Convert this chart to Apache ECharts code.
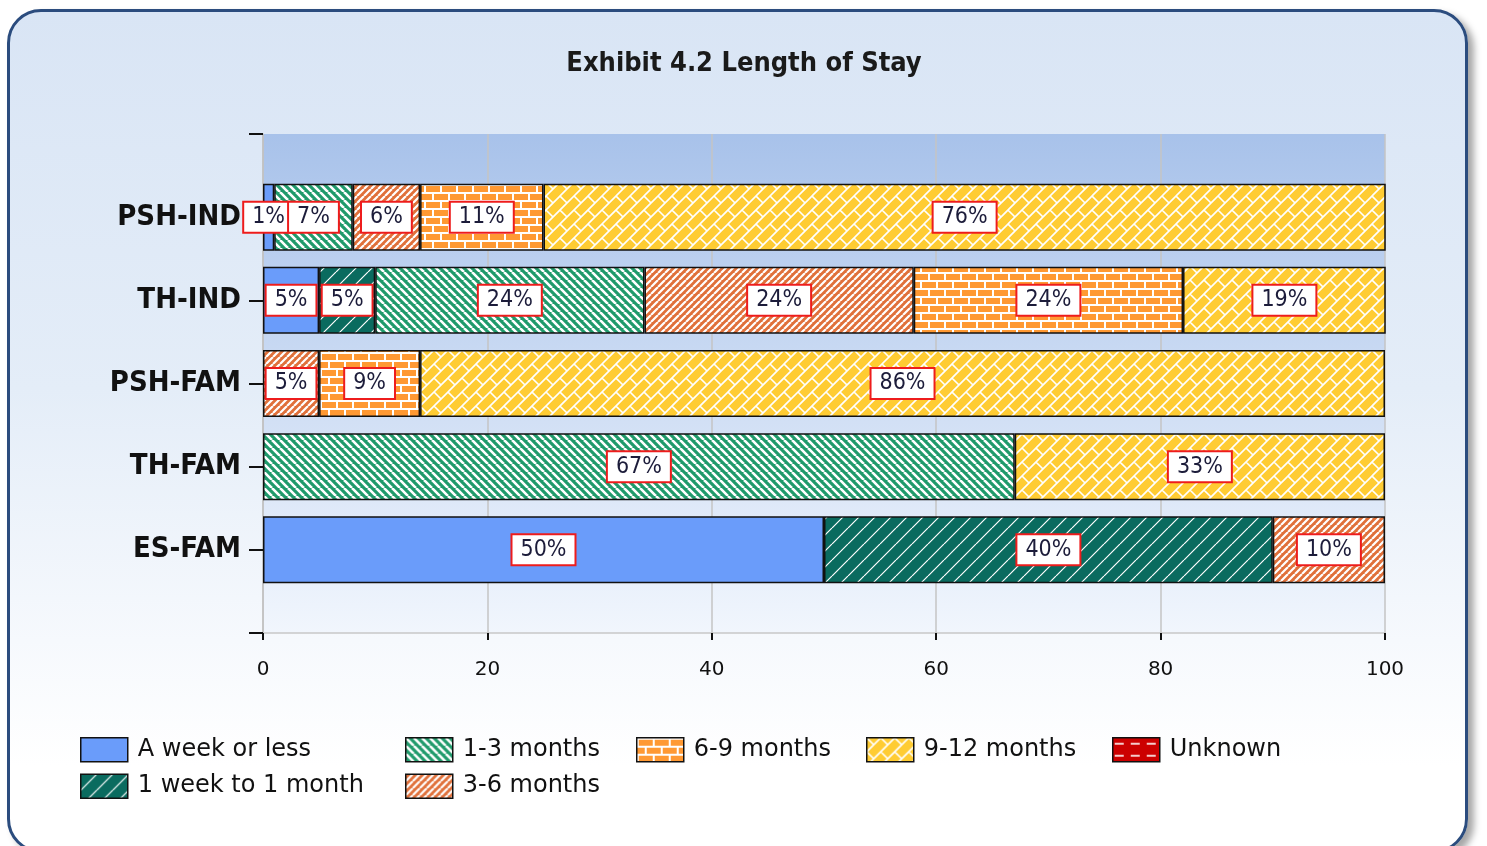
<!DOCTYPE html>
<html>
<head>
<meta charset="utf-8">
<script src="https://cdn.jsdelivr.net/npm/echarts@6/dist/echarts.min.js"></script>
<style>
html,body{margin:0;padding:0;width:1487px;height:846px;overflow:hidden;background:#fff;}
#frame{position:absolute;left:7px;top:9px;width:1455px;height:838px;border:3px solid #2b4c7e;border-radius:34px;
background:linear-gradient(to bottom,#d9e5f5 0%,#e4edf8 45%,#f6f9fd 75%,#ffffff 90%);box-shadow:6px 5px 7px rgba(0,0,0,0.35);}
#chart{position:absolute;left:0;top:0;width:1487px;height:846px;}
</style>
</head>
<body>
<div id="frame"></div>
<div id="chart"></div>
<script>
const categories = ['PSH-IND', 'TH-IND', 'PSH-FAM', 'TH-FAM', 'ES-FAM'];
const seriesNames = ['A week or less', '1 week to 1 month', '1-3 months', '3-6 months', '6-9 months', '9-12 months', 'Unknown'];
const weekOrLess   = [1, 5, 0, 0, 50];
const weekToMonth  = [0, 5, 0, 0, 40];
const months1to3   = [7, 24, 0, 67, 0];
const months3to6   = [6, 24, 5, 0, 10];
const months6to9   = [11, 24, 9, 0, 0];
const months9to12  = [76, 19, 86, 33, 0];
const unknownStay  = [0, 0, 0, 0, 0];
const xTicks = [0, 20, 40, 60, 80, 100];

function pat(w, h, bg, draw) {
  const c = document.createElement('canvas');
  c.width = w; c.height = h;
  const x = c.getContext('2d');
  x.fillStyle = bg; x.fillRect(0, 0, w, h);
  x.strokeStyle = '#fff';
  draw(x, w, h);
  return { image: c, repeat: 'repeat' };
}
function hatch(bg, s, lw, forward) {
  return pat(s, s, bg, (x) => {
    x.lineWidth = lw;
    x.beginPath();
    for (const o of [-s, 0, s]) {
      if (forward) { x.moveTo(o, s); x.lineTo(o + s, 0); }
      else { x.moveTo(o, 0); x.lineTo(o + s, s); }
    }
    x.stroke();
  });
}
function brick(bg) {
  return pat(16, 16, bg, (x) => {
    x.fillStyle = '#fff';
    x.fillRect(0, 0, 16, 2);
    x.fillRect(0, 8, 16, 2);
    x.fillRect(0, 0, 2, 8);
    x.fillRect(8, 8, 2, 8);
  });
}
function diagBrick(bg) {
  const P = 14;
  return pat(2 * P, 2 * P, bg, (x) => {
    x.lineWidth = 1.6;
    x.beginPath();
    for (let k = -4; k <= 8; k++) {
      x.moveTo(k * P + 40, -40); x.lineTo(k * P - 40, 40);
    }
    for (let k = -4; k <= 8; k++) {
      const c0 = (((k % 2) + 2) % 2) ? P : 0;
      for (let m = -4; m <= 4; m++) {
        const d = c0 + 2 * P * m;
        const s1 = k * P, s2 = (k + 1) * P;
        x.moveTo((s1 + d) / 2, (s1 - d) / 2);
        x.lineTo((s2 + d) / 2, (s2 - d) / 2);
      }
    }
    x.stroke();
  });
}
function dashes(bg) {
  return pat(16, 12, bg, (x) => {
    x.lineWidth = 1.6;
    x.beginPath();
    x.moveTo(2, 6); x.lineTo(11, 6);
    x.stroke();
  });
}

const fills = [
  '#6a9cfa',
  hatch('#0a6b5f', 16, 1.2, true),
  hatch('#1f9a6b', 8, 2.6, false),
  hatch('#e0703a', 7, 2.2, true),
  brick('#ff9933'),
  diagBrick('#ffcc33'),
  dashes('#cc0000')
];
const valueSets = [weekOrLess, weekToMonth, months1to3, months3to6, months6to9, months9to12, unknownStay];

const FONT = '"DejaVu Sans Condensed", "DejaVu Sans", sans-serif';
const WIDE_FONT = '"DejaVu Sans", sans-serif';

const yData = [''].concat(categories, ['']);

const series = seriesNames.map((name, i) => ({
  name: name,
  type: 'bar',
  stack: 'total',
  barWidth: 67,
  data: ['-'].concat(valueSets[i].map(v => v === 0 ? '-' : v), ['-']),
  itemStyle: { color: fills[i], borderColor: '#111', borderWidth: 1.5 },
  label: {
    show: true,
    position: 'inside',
    formatter: p => p.value + '%',
    fontFamily: FONT,
    fontSize: 23,
    color: '#1c1c3a',
    backgroundColor: '#fff',
    borderColor: '#ee1c1c',
    borderWidth: 2,
    padding: [4, 8, 2, 8]
  },
  emphasis: { disabled: true }
}));

const legendCols = [
  { data: ['A week or less', '1 week to 1 month'], left: 80 },
  { data: ['1-3 months', '3-6 months'], left: 405 },
  { data: ['6-9 months'], left: 636 },
  { data: ['9-12 months'], left: 866 },
  { data: ['Unknown'], left: 1112 }
];

const chart = echarts.init(document.getElementById('chart'));
chart.setOption({
  backgroundColor: 'transparent',
  animation: false,
  title: {
    text: 'Exhibit 4.2 Length of Stay',
    left: 739, top: 45, textAlign: 'center',
    textStyle: { fontFamily: FONT, fontSize: 27, fontWeight: 'bold', color: '#1a1a1a' }
  },
  legend: legendCols.map(c => ({
    data: c.data,
    left: c.left,
    top: 737,
    orient: 'vertical',
    padding: 0,
    itemGap: 11,
    itemWidth: 47,
    itemHeight: 24,
    icon: 'rect',
    selectedMode: false,
    itemStyle: { borderColor: '#111', borderWidth: 1.5 },
    textStyle: { fontFamily: WIDE_FONT, fontSize: 24, color: '#111', padding: [0, 0, 0, 5] }
  })),
  grid: {
    left: 263, right: 102, top: 134, bottom: 213,
    show: true, borderWidth: 0,
    backgroundColor: new echarts.graphic.LinearGradient(0, 0, 0, 1, [
      { offset: 0, color: '#a8c2ea' },
      { offset: 1, color: '#f1f6fd' }
    ])
  },
  xAxis: {
    type: 'value', min: xTicks[0], max: xTicks[xTicks.length - 1], interval: 20,
    axisLine: { show: true, lineStyle: { color: '#c8c8c8', width: 1.5 } },
    axisTick: { show: true, length: 7, lineStyle: { color: '#111', width: 2 } },
    axisLabel: { fontFamily: WIDE_FONT, fontSize: 20, color: '#111', margin: 27 },
    splitLine: { show: true, lineStyle: { color: '#c4c4c4', width: 1.5 } }
  },
  yAxis: {
    type: 'category', data: yData, inverse: true, boundaryGap: false,
    axisLine: { show: true, lineStyle: { color: '#c0c0c0', width: 1.5 } },
    axisTick: { show: true, length: 14, alignWithLabel: true, lineStyle: { color: '#111', width: 2 } },
    axisLabel: { fontFamily: FONT, fontSize: 29, fontWeight: 'bold', color: '#111', margin: 22 },
    splitLine: { show: false }
  },
  series: series
});
</script>
</body>
</html>
